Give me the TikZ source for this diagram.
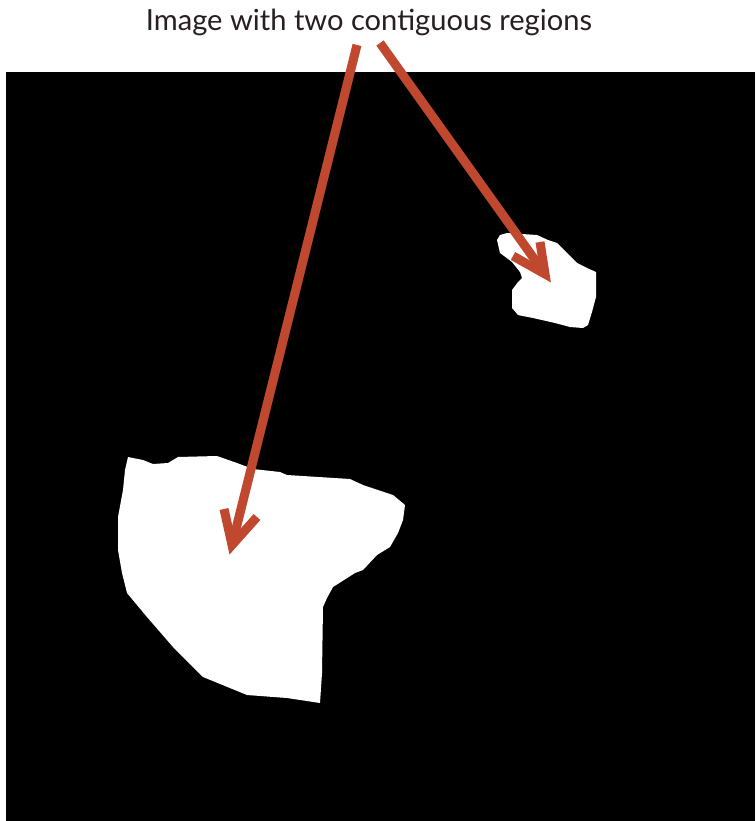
\documentclass[tikz,border=0pt]{standalone}
\usepackage{fontspec}
\setmainfont{Lato}
\definecolor{arrowred}{RGB}{192,72,46}
\definecolor{txt}{RGB}{40,30,35}
\tikzset{
  region/.style={fill=white, draw=none},
  pointer/.style={draw=arrowred, line width=9pt, line cap=butt, line join=miter, miter limit=10},
}
\begin{document}
\begin{tikzpicture}[x=1pt,y=-1pt]
\useasboundingbox (0,0) rectangle (755,821);
\fill[white] (0,0) rectangle (755,821);
\fill[black] (6,72) rectangle (755,821);
% big region
\fill[region] (128,457) -- (143,460) -- (153,464) -- (168,463) -- (178,457) -- (217,456)
  -- (237,463) -- (253,469) -- (280,472) -- (287,475) -- (350,479) -- (363,485)
  -- (393,495) -- (405,505) -- (403,520) -- (398,533) -- (390,547) -- (377,555)
  -- (363,570) -- (355,573) -- (333,587) -- (327,598) -- (323,607) -- (322,673)
  -- (320,703) -- (287,698) -- (247,695) -- (203,677) -- (173,647) -- (147,617)
  -- (127,593) -- (122,573) -- (118,550) -- (118,517) -- (123,490) -- (125,470) -- cycle;
% small region
\fill[region] (497,240) -- (500,235) -- (507,233) -- (537,235) -- (548,240) -- (557,243)
  -- (567,253) -- (577,263) -- (587,268) -- (596,272) -- (596,297) -- (592,312)
  -- (588,325) -- (583,328) -- (570,327) -- (555,323) -- (533,318) -- (518,315)
  -- (512,308) -- (512,290) -- (518,282) -- (522,278) -- (520,272) -- (512,262)
  -- (500,253) -- cycle;
% title
\node[text=txt, inner sep=0pt] (title) at (369,22) {\resizebox{446pt}{!}{Image with two contiguous regions}};
% arrows
\coordinate (s1) at (357,45);
\coordinate (t1) at (232,545);
\coordinate (s2) at (380,43);
\coordinate (t2) at (545,274);
\draw[pointer] (s1) -- (t1);
\draw[pointer] (224,509) -- (t1) -- (257,517);
\draw[pointer] (s2) -- (t2);
\draw[pointer] (513,256) -- (t2) -- (540,242);
\end{tikzpicture}
\end{document}
